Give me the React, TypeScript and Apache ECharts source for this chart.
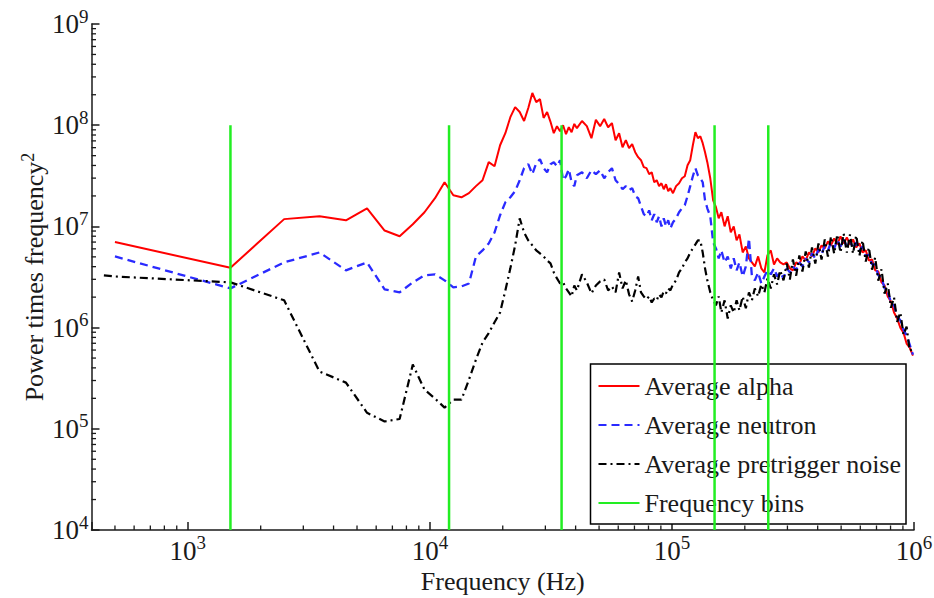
import React, { useEffect, useRef } from 'react';
import * as echarts from 'echarts';

// Frequencies (Hz) at which the traces were read
const freqs = [
  450, 500, 1500, 2500, 3500, 4500, 5500, 6500, 7500, 8500, 9500, 10500, 11500, 12500, 13500, 14500, 15500, 16500, 17500, 18500, 19500, 20500,
  21500, 22500, 23500, 24500, 25500, 26500, 27500, 28500, 29500, 30500, 31500, 32500, 33500, 34500, 35500, 36500, 37500, 38500, 39500, 40500,
  42500, 44500, 46500, 48500, 50500, 52500, 54500, 56500, 58500, 60500, 62500, 64500, 66500, 68500, 70500, 72500, 74500, 76500, 78500, 80500,
  82500, 84500, 86500, 88500, 90500, 92500, 94500, 96500, 98500,
  101000, 104000, 107000, 110000, 113000, 116000, 119000, 122000, 125000, 128000,
  131000, 134000, 137000, 140000, 144000, 148000, 152000, 156000, 160000, 165000,
  170000, 175000, 180000, 185000, 190000, 196000, 202000, 208000, 214000, 220000,
  227000, 234000, 241000, 248000, 256000, 264000, 272000, 280000, 289000, 298000,
  307000, 316000, 326000, 336000, 346000, 357000, 368000, 379000, 391000, 403000,
  415000, 428000, 441000, 454000, 468000, 482000, 497000, 512000, 528000, 544000,
  560000, 577000, 595000, 613000, 632000, 651000, 671000, 691000, 712000, 734000,
  756000, 779000, 803000, 827000, 852000, 878000, 905000, 932000, 960000, 990000,
];

const alpha = [
  null, 7.0e6, 3.9e6, 1.18e7, 1.26e7, 1.15e7, 1.51e7, 9.1e6, 8.0e6, 1.05e7, 1.38e7, 1.9e7, 2.73e7, 2.03e7, 1.94e7, 2.13e7, 2.5e7, 2.86e7, 4.31e7, 3.93e7, 6.34e7, 8.34e7,
  1.2e8, 1.51e8, 1.35e8, 1.1e8, 1.48e8, 2.08e8, 1.69e8, 1.81e8, 1.18e8, 1.35e8, 1.08e8, 8.34e7, 9.78e7, 8.72e7, 1.0e8, 8.15e7, 9.55e7, 8.53e7, 1.03e8, 9.34e7,
  1.1e8, 9.78e7, 7.44e7, 1.13e8, 9.78e7, 1.15e8, 9.55e7, 1.05e8, 7.11e7, 8.34e7, 6.06e7, 7.11e7, 5.93e7, 6.49e7, 5.41e7, 4.83e7, 4.51e7, 3.85e7, 3.76e7, 3.28e7,
  3.43e7, 2.73e7, 2.86e7, 2.5e7, 2.67e7, 2.33e7, 2.61e7, 2.23e7, 2.39e7,
  2.13e7, 2.5e7, 2.67e7, 2.99e7, 3.13e7, 4.02e7, 4.51e7, 6.34e7, 8.53e7, 7.44e7,
  7.78e7, 6.64e7, 5.41e7, 4.31e7, 2.99e7, 1.81e7, 1.55e7, 1.2e7, 1.38e7, 1.0e7,
  1.26e7, 8.72e6, 1.0e7, 7.27e6, 8.34e6, 5.53e6, 6.34e6, 4.83e6, 4.41e6, 4.02e6,
  5.05e6, 3.85e6, 3.51e6, 5.17e6, 5.79e6, 4.21e6, 4.83e6, 4.41e6, 4.21e6, 4.41e6,
  3.85e6, 3.68e6, 4.41e6, 4.21e6, 5.05e6, 4.61e6, 5.53e6, 5.05e6, 6.06e6, 5.53e6,
  6.49e6, 6.06e6, 7.11e6, 6.49e6, 7.61e6, 6.64e6, 7.96e6, 6.79e6, 7.78e6, 6.64e6,
  7.44e6, 6.2e6, 6.79e6, 5.53e6, 5.79e6, 4.61e6, 4.72e6, 3.68e6, 3.59e6, 2.8e6,
  2.61e6, 2.03e6, 1.81e6, 1.41e6, 1.23e6, 1.0e6, 8.92e5, 6.95e5, 6.34e5, 5.29e5,
];

const neutron = [
  null, 5.05e6, 2.44e6, 4.41e6, 5.53e6, 3.68e6, 4.41e6, 2.39e6, 2.23e6, 2.8e6, 3.28e6, 3.36e6, 2.93e6, 2.5e6, 2.55e6, 2.73e6, 5.05e6, 5.79e6, 6.79e6, 8.72e6, 1.29e7, 1.73e7,
  1.94e7, 2.23e7, 2.86e7, 3.76e7, 4.12e7, 3.28e7, 4.21e7, 4.61e7, 3.76e7, 3.43e7, 4.12e7, 4.31e7, 3.93e7, 4.51e7, 2.86e7, 3.13e7, 3.68e7, 2.73e7, 2.5e7, 3.2e7,
  3.43e7, 2.99e7, 3.59e7, 3.28e7, 3.59e7, 2.99e7, 3.43e7, 3.76e7, 2.86e7, 2.61e7, 2.33e7, 2.5e7, 2.28e7, 2.39e7, 1.99e7, 1.9e7, 1.58e7, 1.32e7, 1.26e7, 1.44e7,
  1.15e7, 1.32e7, 1.1e7, 1.26e7, 1.0e7, 1.2e7, 1.0e7, 1.15e7, 9.55e6,
  1.1e7, 1.2e7, 1.38e7, 1.51e7, 1.62e7, 1.99e7, 2.5e7, 3.13e7, 3.76e7, 3.2e7,
  2.99e7, 2.73e7, 1.81e7, 1.51e7, 1.26e7, 6.95e6, 6.06e6, 4.83e6, 5.79e6, 4.41e6,
  5.05e6, 3.85e6, 4.83e6, 3.68e6, 4.41e6, 3.2e6, 4.02e6, 7.61e6, 3.2e6, 2.93e6,
  3.51e6, 2.73e6, 3.2e6, 3.68e6, 3.36e6, 3.85e6, 3.2e6, 3.51e6, 3.06e6, 3.85e6,
  3.51e6, 4.02e6, 3.68e6, 4.41e6, 4.02e6, 4.83e6, 4.41e6, 5.41e6, 4.83e6, 5.93e6,
  5.29e6, 6.49e6, 5.79e6, 6.95e6, 6.06e6, 7.27e6, 6.34e6, 7.44e6, 6.34e6, 7.27e6,
  6.06e6, 6.95e6, 5.79e6, 6.34e6, 5.05e6, 5.29e6, 4.21e6, 4.21e6, 3.28e6, 3.13e6,
  2.44e6, 2.28e6, 1.77e6, 1.66e6, 1.29e6, 1.18e6, 9.55e5, 8.34e5, 6.79e5, 5.41e5,
];

const noise = [
  3.28e6, 3.2e6, 2.8e6, 1.86e6, 3.68e5, 2.86e5, 1.44e5, 1.18e5, 1.25e5, 4.31e5, 2.44e5, 1.99e5, 1.62e5, 1.94e5, 1.94e5, 3.06e5, 4.83e5, 7.11e5, 8.83e5, 1.13e6, 1.41e6, 2.33e6,
  3.85e6, 6.49e6, 1.2e7, 8.72e6, 7.27e6, 6.49e6, 5.79e6, 5.41e6, 5.05e6, 4.61e6, 4.31e6, 3.51e6, 3.06e6, 2.73e6, 2.8e6, 2.44e6, 2.23e6, 2.03e6, 2.61e6, 2.33e6,
  3.36e6, 2.8e6, 2.18e6, 2.61e6, 2.86e6, 2.99e6, 2.33e6, 2.55e6, 2.23e6, 3.51e6, 2.44e6, 2.93e6, 2.13e6, 1.81e6, 2.33e6, 3.2e6, 2.23e6, 2.03e6, 1.9e6, 2.03e6,
  1.77e6, 1.94e6, 1.86e6, 2.13e6, 1.99e6, 2.28e6, 2.18e6, 2.44e6, 2.33e6,
  2.67e6, 2.93e6, 3.51e6, 3.85e6, 4.41e6, 4.83e6, 5.53e6, 6.06e6, 6.64e6, 7.27e6,
  7.27e6, 5.53e6, 3.85e6, 2.93e6, 2.23e6, 1.86e6, 1.66e6, 2.03e6, 1.41e6, 1.86e6,
  1.23e6, 1.66e6, 1.41e6, 1.86e6, 1.48e6, 2.03e6, 1.55e6, 2.23e6, 1.86e6, 2.44e6,
  2.03e6, 2.67e6, 2.23e6, 3.06e6, 2.44e6, 3.36e6, 2.67e6, 3.68e6, 2.93e6, 4.3e6,
  2.98e6, 4.72e6, 3.26e6, 5.17e6, 3.58e6, 5.66e6, 3.92e6, 6.2e6, 4.29e6, 6.78e6,
  4.7e6, 7.44e6, 5.03e6, 7.96e6, 5.38e6, 8.32e6, 5.51e6, 8.52e6, 5.51e6, 8.32e6,
  5.38e6, 8.14e6, 5.14e6, 7.27e6, 4.49e6, 6.2e6, 3.74e6, 4.93e6, 2.91e6, 3.76e6,
  2.17e6, 2.73e6, 1.57e6, 1.99e6, 1.14e6, 1.41e6, 8.5e5, 1.02e6, 5.9e5, 6.2e5,
];

// Frequency bin boundaries (Hz)
const binFreqs = [1500, 12000, 35000, 150000, 250000];
const binBottom = 1e4;
const binTop = 1e8;

// Minor tick positions for the log axes
const xMinorTicks = [
  500, 600, 700, 800, 900,
  2000, 3000, 4000, 5000, 6000, 7000, 8000, 9000,
  20000, 30000, 40000, 50000, 60000, 70000, 80000, 90000,
  200000, 300000, 400000, 500000, 600000, 700000, 800000, 900000,
];
const yMinorTicks = [
  2e4, 3e4, 4e4, 5e4, 6e4, 7e4, 8e4, 9e4,
  2e5, 3e5, 4e5, 5e5, 6e5, 7e5, 8e5, 9e5,
  2e6, 3e6, 4e6, 5e6, 6e6, 7e6, 8e6, 9e6,
  2e7, 3e7, 4e7, 5e7, 6e7, 7e7, 8e7, 9e7,
  2e8, 3e8, 4e8, 5e8, 6e8, 7e8, 8e8, 9e8,
];

const X_MIN = 400;
const X_MAX = 1e6;
const Y_MIN = 1e4;
const Y_MAX = 1e9;

const FONT = "'Liberation Serif', 'Times New Roman', serif";
const INK = '#1a1a1a';

const powLabel = (v: number) => {
  const e = Math.round(Math.log10(v));
  return Math.abs(Math.pow(10, e) - v) < 1e-6 * v ? `{b|10}{s|${e}}` : '';
};

const labelRich = {
  b: { fontSize: 27, lineHeight: 27, fontFamily: FONT, color: INK },
  s: { fontSize: 19, lineHeight: 19, padding: [0, 0, 16, 0], fontFamily: FONT, color: INK },
};

export default function App() {
  const ref = useRef<HTMLDivElement>(null);

  useEffect(() => {
    if (!ref.current) return;
    const chart = echarts.init(ref.current, null, { renderer: 'svg' });

    const tickSeries = (data: number[][], horizontal: boolean) => ({
      type: 'custom',
      silent: true,
      clip: false,
      z: 5,
      data,
      renderItem: (_p: any, api: any) => {
        const pt = api.coord([api.value(0), api.value(1)]);
        return {
          type: 'line',
          shape: horizontal
            ? { x1: pt[0], y1: pt[1], x2: pt[0] + 4.5, y2: pt[1] }
            : { x1: pt[0], y1: pt[1], x2: pt[0], y2: pt[1] - 4.5 },
          style: { stroke: INK, lineWidth: 1.3 },
        };
      },
    });

    const lineSeries = (name: string, vals: (number | null)[], color: string, width: number, type: any, z: number) => ({
      name,
      type: 'line',
      data: freqs.map((f, i) => [f, vals[i]]),
      showSymbol: false,
      symbol: 'none',
      connectNulls: false,
      z,
      lineStyle: { color, width, type },
      itemStyle: { color },
      emphasis: { disabled: true },
    });

    const binSeries = binFreqs.map((f) => ({
      name: 'Frequency bins',
      type: 'line',
      data: [[f, binBottom], [f, binTop]],
      showSymbol: false,
      symbol: 'none',
      z: 4,
      lineStyle: { color: '#22ee22', width: 2.5 },
      itemStyle: { color: '#22ee22' },
      emphasis: { disabled: true },
    }));

    chart.setOption({
      animation: false,
      backgroundColor: '#ffffff',
      grid: { left: 91.5, right: 20, top: 24, bottom: 68, containLabel: false, outerBoundsMode: 'none' },
      xAxis: {
        type: 'log',
        logBase: 10,
        min: X_MIN,
        max: X_MAX,
        name: 'Frequency (Hz)',
        nameLocation: 'middle',
        nameGap: 38,
        nameMoveOverlap: false,
        nameTextStyle: { fontSize: 26, fontFamily: FONT, color: INK, lineHeight: 26 },
        axisLine: { lineStyle: { color: INK, width: 1.5 } },
        axisTick: { inside: true, length: 8, lineStyle: { color: INK, width: 1.5 } },
        splitLine: { show: false },
        minorTick: { show: false },
        axisLabel: {
          margin: 7,
          formatter: powLabel,
          rich: labelRich,
          showMinLabel: true,
          showMaxLabel: true,
        },
      },
      yAxis: {
        type: 'log',
        logBase: 10,
        min: Y_MIN,
        max: Y_MAX,
        name: '{a|Power times frequency}{s|2}',
        nameLocation: 'middle',
        nameRotate: 90,
        nameGap: 44,
        nameMoveOverlap: false,
        nameTextStyle: {
          rich: {
            a: { fontSize: 26, lineHeight: 26, fontFamily: FONT, color: INK },
            s: { fontSize: 18, lineHeight: 18, padding: [0, 0, 14, 0], fontFamily: FONT, color: INK },
          },
        },
        axisLine: { lineStyle: { color: INK, width: 1.5 } },
        axisTick: { inside: true, length: 8, lineStyle: { color: INK, width: 1.5 } },
        splitLine: { show: false },
        minorTick: { show: false },
        axisLabel: {
          margin: 3,
          formatter: powLabel,
          rich: labelRich,
        },
      },
      legend: {
        orient: 'vertical',
        left: 590.5,
        top: 364,
        padding: [7, 5, 6, 7],
        itemWidth: 41,
        itemHeight: 14,
        itemGap: 9,
        backgroundColor: '#ffffff',
        borderColor: '#000000',
        borderWidth: 1.5,
        borderRadius: 0,
        selectedMode: false,
        itemStyle: { color: 'rgba(0,0,0,0)', borderColor: 'rgba(0,0,0,0)', borderWidth: 0, opacity: 0 },
        data: ['Average alpha', 'Average neutron', 'Average pretrigger noise', 'Frequency bins'],
        textStyle: { fontSize: 26, lineHeight: 30, fontFamily: FONT, color: INK },
      },
      series: [
        lineSeries('Average alpha', alpha, '#ff0000', 2, 'solid', 2),
        lineSeries('Average neutron', neutron, '#2a2aff', 2.3, [8, 5], 2),
        lineSeries('Average pretrigger noise', noise, '#000000', 2.2, [8, 4, 2, 4], 3),
        ...binSeries,
        tickSeries(xMinorTicks.map((v) => [v, Y_MIN]), false),
        tickSeries(yMinorTicks.map((v) => [X_MIN, v]), true),
      ],
    });

    return () => chart.dispose();
  }, []);

  return (
    <div
      ref={ref}
      style={{ position: 'fixed', left: 0, top: 0, width: 934, height: 598, background: '#fff' }}
    />
  );
}
